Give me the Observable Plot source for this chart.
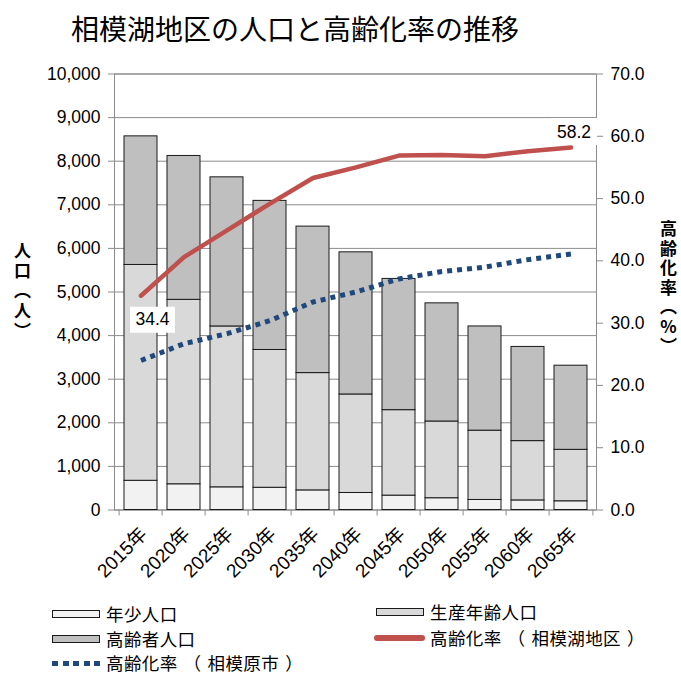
<!DOCTYPE html>
<html lang="ja">
<head>
<meta charset="utf-8">
<script src="https://cdn.jsdelivr.net/npm/d3@7"></script>
<script src="https://cdn.jsdelivr.net/npm/@observablehq/plot@0.6"></script>
<style>
  html, body { margin: 0; padding: 0; background: #fff; }
  #page { position: relative; width: 681px; height: 675px; overflow: hidden;
          font-family: "Liberation Sans", "Noto Sans CJK JP", sans-serif; color: #000; }
  #title { position: absolute; left: 0; width: 590px; top: 12px; text-align: center;
           font-size: 28px; line-height: 32px; font-family: "Noto Sans CJK JP", sans-serif; }
  #chart { position: absolute; left: 0; top: 60px; }
  .lg { position: absolute; font-size: 17.5px; line-height: 18px; letter-spacing: 0.4px;
        font-family: "Noto Sans CJK JP", sans-serif; white-space: nowrap; }
  .lg .p { display: inline-block; margin: 0 6px; }
  .sw { position: absolute; }
</style>
</head>
<body>
<div id="page">
  <div id="title">相模湖地区の人口と高齢化率の推移</div>
  <div id="chart"></div>
  <div id="legend"></div>
</div>
<script>
// ---- data ----
const years = ["2015年","2020年","2025年","2030年","2035年","2040年","2045年","2050年","2055年","2060年","2065年"];
const youngPop   = [670, 590, 520, 510, 450, 390, 330, 270, 230, 220, 200];
const workingPop = [4950, 4230, 3690, 3160, 2690, 2260, 1960, 1760, 1590, 1360, 1180];
const elderlyPop = [2950, 3300, 3420, 3420, 3360, 3260, 3010, 2710, 2390, 2160, 1930];
const rateSagamiko = [34.4, 40.6, 44.9, 49.2, 53.3, 55.0, 56.9, 57.0, 56.8, 57.6, 58.2];
const rateSagamihara = [24.0, 26.7, 28.3, 30.4, 33.4, 35.0, 37.1, 38.3, 39.0, 40.2, 41.1];
const seriesNames = ["年少人口", "生産年齢人口", "高齢者人口", "高齢化率（相模湖地区）", "高齢化率（相模原市）"];
const popTicks = [0,1000,2000,3000,4000,5000,6000,7000,8000,9000,10000];
const rateTicks = [0,10,20,30,40,50,60,70];
const labelPoints = [{i: 0, text: "34.4"}, {i: 10, text: "58.2"}];
const leftTitle = "人口（人）";
const rightTitle = "高齢化率（%）";

// ---- layout/style ----
const W = 681, H = 530;
const ml = 114, mr = 85, mt = 13.5, mb = 80.5;
const popMax = 10000, rateMax = 70;
const toY = p => p * popMax / rateMax;       // secondary axis mapping
const step = (W - ml - mr) / years.length;
const barColors = ["#f2f2f2", "#d9d9d9", "#bfbfbf"];
const gridColor = "#8c8c8c";
const font = "'Liberation Sans', 'Noto Sans CJK JP', sans-serif";

const popRows = [];
years.forEach((y, i) => {
  popRows.push({year: y, group: seriesNames[0], value: youngPop[i]});
  popRows.push({year: y, group: seriesNames[1], value: workingPop[i]});
  popRows.push({year: y, group: seriesNames[2], value: elderlyPop[i]});
});
const redRows = years.map((y, i) => ({year: y, v: toY(rateSagamiko[i])}));
const blueRows = years.map((y, i) => ({year: y, v: toY(rateSagamihara[i])}));
const labelRows = labelPoints.map(d => ({year: years[d.i], v: toY(rateSagamiko[d.i]), text: d.text, first: d.i === 0}));

function boxSymbol(w, h) {
  return { draw(ctx) { ctx.rect(-w / 2, -h / 2, w, h); } };
}

const chart = Plot.plot({
  width: W, height: H,
  marginLeft: ml, marginRight: mr, marginTop: mt, marginBottom: mb,
  style: {fontFamily: font, fontSize: "17px", background: "transparent", color: "#000"},
  x: {domain: years, paddingInner: 0.233, paddingOuter: 0.1165, label: null},
  y: {domain: [0, popMax], nice: false, label: null},
  color: {domain: seriesNames.slice(0, 3), range: barColors},
  marks: [
    Plot.ruleY(popTicks, {stroke: gridColor, strokeWidth: 1}),
    Plot.frame({stroke: gridColor, strokeWidth: 1}),
    Plot.barY(popRows, {x: "year", y: "value", fill: "group", z: "group", order: seriesNames.slice(0, 3),
      stroke: "#1a1a1a", strokeWidth: 1}),
    Plot.axisY({ticks: popTicks, tickFormat: d3.format(","), tickSize: 6, tickPadding: 8,
      stroke: gridColor, fill: "#000", fontSize: 17.5, label: null}),
    Plot.axisY({anchor: "right", ticks: rateTicks.map(toY), tickFormat: d => (d * rateMax / popMax).toFixed(1),
      tickSize: 6, tickPadding: 8, stroke: gridColor, fill: "#000", fontSize: 17.5, label: null}),
    Plot.axisX({tickRotate: -45, tickSize: 0, tickPadding: 21, dx: 3, fontSize: 19, label: null, fill: "#000"}),
    Plot.ruleX(years, {x: d => d, y1: 0, y2: 0, insetBottom: -6, dx: -step / 2, stroke: gridColor}),
    Plot.ruleX(years.slice(-1), {x: d => d, y1: 0, y2: 0, insetBottom: -6, dx: step / 2, stroke: gridColor}),
    Plot.dot(labelRows.filter(d => d.first), {x: "year", y: "v", symbol: boxSymbol(45, 26), r: 1, fill: "#fff", stroke: "none", dx: 11.5, dy: 24}),
    Plot.dot(labelRows.filter(d => !d.first), {x: "year", y: "v", symbol: boxSymbol(46, 27), r: 1, fill: "#fff", stroke: "none", dx: 3, dy: -16}),
    Plot.line(blueRows, {x: "year", y: "v", stroke: "#1f497d", strokeWidth: 5, strokeDasharray: "5,5", strokeLinecap: "butt"}),
    Plot.line(redRows, {x: "year", y: "v", stroke: "#c0504d", strokeWidth: 4.5, strokeLinecap: "round", strokeLinejoin: "round"}),
    Plot.text(labelRows.filter(d => d.first), {x: "year", y: "v", text: "text", dx: 11.5, dy: 24, fontSize: 17.5, fill: "#000"}),
    Plot.text(labelRows.filter(d => !d.first), {x: "year", y: "v", text: "text", dx: 3, dy: -15, fontSize: 17.5, fill: "#000"}),
    Plot.text([0], {text: () => leftTitle, frameAnchor: "left", dx: -92, dy: -5, textAnchor: "middle",
      fontWeight: "bold", fontSize: 17, fontFamily: "'Noto Sans CJK JP', sans-serif"}),
    Plot.text([0], {text: () => rightTitle, frameAnchor: "right", dx: 72, dy: -9, textAnchor: "middle",
      fontWeight: "bold", fontSize: 17, fontFamily: "'Noto Sans CJK JP', sans-serif"})
  ]
});
// axis titles are written vertically with upright characters
chart.querySelectorAll("text").forEach(t => {
  if (t.textContent === leftTitle || t.textContent === rightTitle) {
    t.style.writingMode = "vertical-rl";
    t.style.textOrientation = "upright";
    t.style.letterSpacing = t.textContent === leftTitle ? "3px" : "2.5px";
  }
});
document.getElementById("chart").appendChild(chart);

// ---- legend ----
const legend = document.getElementById("legend");
const items = [
  {name: seriesNames[0], kind: "bar", color: barColors[0], sx: 52, tx: 106, cy: 614},
  {name: seriesNames[1], kind: "bar", color: barColors[1], sx: 376, tx: 430, cy: 612},
  {name: seriesNames[2], kind: "bar", color: barColors[2], sx: 52, tx: 106, cy: 639},
  {name: seriesNames[3], kind: "red", color: "#c0504d", sx: 374, tx: 430, cy: 638},
  {name: seriesNames[4], kind: "blue", color: "#1f497d", sx: 52, tx: 106, cy: 663}
];
items.forEach(it => {
  const sw = document.createElement("div");
  sw.className = "sw";
  if (it.kind === "bar") {
    Object.assign(sw.style, {left: it.sx + "px", top: (it.cy - 4) + "px", width: "46px", height: "6px",
      background: it.color, border: "1px solid #1a1a1a"});
  } else if (it.kind === "red") {
    Object.assign(sw.style, {left: it.sx + "px", top: (it.cy - 3) + "px", width: "51px", height: "6px",
      background: it.color, borderRadius: "3px"});
  } else {
    Object.assign(sw.style, {left: it.sx + "px", top: (it.cy - 2.5) + "px", width: "52px", height: "5px",
      background: `repeating-linear-gradient(90deg, ${it.color} 0 6px, transparent 6px 10.6px)`});
  }
  legend.appendChild(sw);
  const tx = document.createElement("div");
  tx.className = "lg";
  // group runs of ordinary characters; widen the full-width parentheses
  for (const part of it.name.split(/([（）])/).filter(s => s.length)) {
    if (part === "（" || part === "）") {
      const s = document.createElement("span");
      s.className = "p";
      s.textContent = part;
      tx.appendChild(s);
    } else {
      tx.appendChild(document.createTextNode(part));
    }
  }
  Object.assign(tx.style, {left: it.tx + "px", top: (it.cy - 9) + "px"});
  legend.appendChild(tx);
});
</script>
</body>
</html>
